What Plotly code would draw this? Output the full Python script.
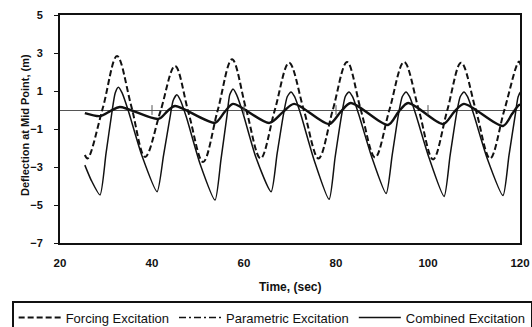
import plotly.graph_objects as go

# ---------------- data ----------------
forcing_t = [25.4, 26.0, 29.3, 32.4, 35.5, 38.5, 41.8, 45.0, 48.0, 51.1, 54.3, 57.4,
             60.5, 63.6, 66.7, 69.8, 73.0, 76.2, 79.3, 82.4, 85.4, 88.5, 91.6, 94.8,
             98.0, 101.1, 104.2, 107.2, 110.4, 113.5, 116.6, 119.8, 120.6]
forcing_y = [-2.37, -2.55, 0.1, 2.84, 0.2, -2.47, -0.1, 2.32, -0.2, -2.74, 0.0, 2.67,
             0.0, -2.55, 0.0, 2.49, 0.0, -2.55, 0.0, 2.53, 0.0, -2.5, 0.0, 2.53,
             0.0, -2.6, 0.0, 2.49, 0.0, -2.55, 0.0, 2.55, 1.0]

param_t = [25.4, 28.7, 31.0, 33.0, 41.4, 43.4, 45.0, 53.7, 55.8, 57.6, 65.5, 68.5,
           70.9, 78.5, 81.0, 83.2, 91.3, 93.6, 95.7, 103.3, 105.7, 107.8, 116.3,
           118.3, 119.8, 120.6]
param_y = [-0.16, -0.32, -0.05, 0.16, -0.47, -0.05, 0.21, -0.67, -0.1, 0.32, -0.68, -0.1,
           0.32, -0.74, -0.1, 0.37, -0.79, -0.1, 0.37, -0.74, -0.1, 0.32, -0.84,
           -0.2, 0.26, 0.3]

combined_t = [25.4, 26.8, 28.7, 30.0, 31.3, 32.0, 32.7, 33.5, 34.8, 37.8,
              41.1, 42.5, 43.9, 44.6, 45.4, 46.2, 47.5, 50.4,
              53.7, 55.0, 56.3, 56.9, 57.6, 58.4, 59.7, 62.6,
              65.9, 67.2, 68.6, 69.4, 70.2, 71.0, 72.3, 75.2,
              78.5, 79.8, 81.2, 82.0, 82.8, 83.6, 84.9, 87.8,
              90.9, 92.2, 93.6, 94.4, 95.2, 96.0, 97.3, 100.2,
              103.5, 104.8, 106.2, 107.0, 107.8, 108.6, 109.9, 112.8,
              116.3, 117.6, 119.0, 119.6, 120.2, 120.6]
combined_y = [-2.9, -3.7, -4.47, -2.3, -0.1, 0.9, 1.2, 0.9, 0.0, -2.4,
              -4.3, -2.4, -0.4, 0.5, 0.8, 0.5, -0.4, -2.8,
              -4.74, -2.6, -0.3, 0.8, 1.1, 0.8, -0.1, -2.5,
              -4.3, -2.3, -0.2, 0.7, 0.95, 0.7, -0.2, -2.6,
              -4.7, -2.5, -0.3, 0.7, 0.95, 0.7, -0.2, -2.5,
              -4.4, -2.4, -0.2, 0.7, 0.95, 0.7, -0.2, -2.5,
              -4.55, -2.4, -0.2, 0.7, 0.95, 0.7, -0.2, -2.5,
              -4.5, -2.4, -0.2, 0.7, 0.95, 0.7]

x_ticks = [20, 40, 60, 80, 100, 120]
y_ticks = [-7, -5, -3, -1, 1, 3, 5]
cross_ticks = [40, 60, 80, 100]

FONT = "Liberation Sans, Arial, sans-serif"
INK = "#111111"

fig = go.Figure()

fig.add_trace(go.Scatter(
    x=forcing_t, y=forcing_y, mode="lines", name="Forcing Excitation",
    line=dict(color=INK, width=2, dash="6px,3px", shape="spline", smoothing=1.0)))
# legend-only entry for parametric (dash-dot style as in the legend)
fig.add_trace(go.Scatter(
    x=[None], y=[None], mode="lines", name="Parametric Excitation",
    line=dict(color=INK, width=1.5, dash="7px,3px,2px,3px")))
fig.add_trace(go.Scatter(
    x=combined_t, y=combined_y, mode="lines", name="Combined Excitation",
    line=dict(color=INK, width=1.5, shape="spline", smoothing=0.6)))
fig.add_trace(go.Scatter(
    x=param_t, y=param_y, mode="lines", name="Parametric Excitation",
    showlegend=False,
    line=dict(color=INK, width=2.4, shape="spline", smoothing=0.8)))
# cross tick marks on the category axis crossing at zero
fig.add_trace(go.Scatter(
    x=cross_ticks, y=[0] * len(cross_ticks), mode="markers", showlegend=False,
    marker=dict(symbol="line-ns", size=7, line=dict(color="#555555", width=1)),
    hoverinfo="skip"))

fig.update_layout(
    width=532, height=327,
    margin=dict(l=60, r=12, t=15, b=84, autoexpand=False),
    paper_bgcolor="white", plot_bgcolor="white",
    font=dict(family=FONT, color=INK, size=11),
    showlegend=True,
    legend=dict(
        orientation="h", x=-0.104, xanchor="left", y=-0.255, yanchor="top",
        bordercolor=INK, borderwidth=1.5, itemwidth=42,
        font=dict(family=FONT, size=13, color=INK),
        bgcolor="white", tracegroupgap=0),
    xaxis=dict(
        range=[20, 120], tickmode="array", tickvals=x_ticks,
        showgrid=False, zeroline=False, showline=True, mirror=True,
        linecolor=INK, linewidth=1.6, ticks="", ticklabelstandoff=8,
        tickfont=dict(family=FONT, size=11.5, weight="bold", color=INK)),
    yaxis=dict(
        range=[-7, 5], tickmode="array", tickvals=y_ticks,
        showgrid=False, zeroline=True, zerolinecolor="#555555", zerolinewidth=1,
        showline=True, mirror=True, linecolor=INK, linewidth=1.8,
        ticks="outside", ticklen=4, tickcolor=INK, ticklabelstandoff=9,
        tickfont=dict(family=FONT, size=11, weight="bold", color=INK)),
    annotations=[
        dict(text="Time, (sec)", xref="paper", yref="paper", x=0.5, y=-0.193,
             xanchor="center", yanchor="middle", showarrow=False,
             font=dict(family=FONT, size=12, weight="bold", color=INK)),
        dict(text="Deflection at Mid Point, (m)", xref="paper", yref="paper",
             x=-0.076, y=0.5175, xanchor="center", yanchor="middle",
             textangle=-90, showarrow=False,
             font=dict(family=FONT, size=11, weight="bold", color=INK)),
    ],
)

fig.write_html("out.html",
               config={"displayModeBar": False},
               post_script="document.body.style.margin='0';"
                           "document.body.style.overflow='hidden';")
